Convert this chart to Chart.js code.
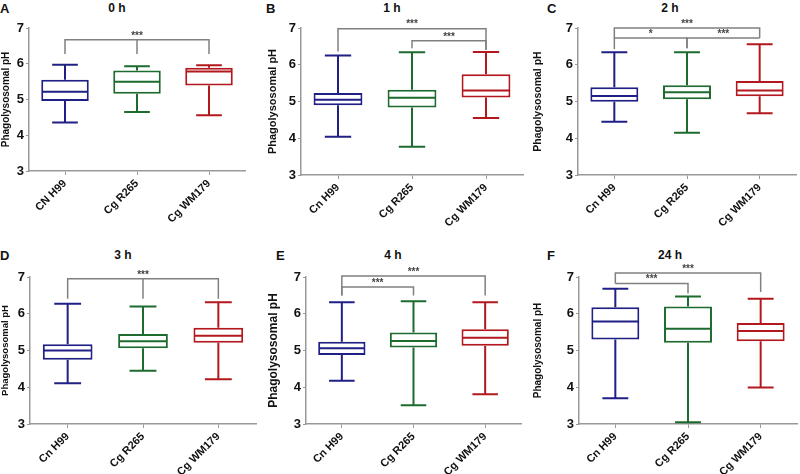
<!DOCTYPE html>
<html>
<head>
<meta charset="utf-8">
<script src="https://cdn.jsdelivr.net/npm/chart.js@4.4.0/dist/chart.umd.min.js"></script>
<style>
  body { margin: 0; background: #fff; width: 800px; height: 474px; position: relative; overflow: hidden;
         font-family: "Liberation Sans", Arial, sans-serif; }
  canvas { position: absolute; }
  .lbl { position: absolute; font-weight: bold; color: #111; white-space: nowrap; line-height: 1; }
</style>
</head>
<body>
<script>
// groups and panels
const groups = ['Cn H99', 'Cg R265', 'Cg WM179'];
const groupsA = ['CN H99', 'Cg R265', 'Cg WM179'];
const times = ['0 h', '1 h', '2 h', '3 h', '4 h', '24 h'];
const letters = ['A', 'B', 'C', 'D', 'E', 'F'];
const yTicks = [3, 4, 5, 6, 7];

// box plot values per panel (Cn H99, Cg R265, Cg WM179)
const mins    = [[4.36, 4.65, 4.56], [4.04, 3.77, 4.55], [4.45, 4.15, 4.68], [4.11, 4.45, 4.22], [4.18, 3.51, 3.81], [3.70, 3.05, 3.99]];
const q1s     = [[4.96, 5.16, 5.39], [4.90, 4.84, 5.11], [4.99, 5.06, 5.14], [4.75, 5.06, 5.21], [4.88, 5.08, 5.13], [5.30, 5.21, 5.25]];
const medians = [[5.22, 5.50, 5.78], [5.05, 5.10, 5.30], [5.15, 5.25, 5.30], [5.00, 5.25, 5.40], [5.06, 5.26, 5.35], [5.79, 5.59, 5.53]];
const q3s     = [[5.55, 5.81, 5.89], [5.23, 5.32, 5.74], [5.39, 5.44, 5.56], [5.17, 5.45, 5.62], [5.24, 5.49, 5.58], [6.18, 6.20, 5.75]];
const maxs    = [[5.97, 5.93, 5.96], [6.25, 6.34, 6.35], [6.34, 6.34, 6.56], [6.27, 6.20, 6.31], [6.31, 6.34, 6.31], [6.68, 6.47, 6.41]];

// significance bars (group indexes, heights in pH units)
const sigBars = [
    [{ from: 0, to: 2, y: 6.67, drops: [6.27, 6.27], mid: 1, midDrop: 6.27, label: '***' }],
    [{ from: 0, to: 2, y: 6.98, drops: [6.36, 6.41], label: '***' },
     { from: 1, to: 2, y: 6.65, drops: [6.45, 6.41], label: '***' }],
    [{ from: 0, to: 2, y: 7.0, drops: [6.73, 6.73], label: '***' },
     { from: 0, to: 1, y: 6.73, drops: [6.42, 6.45], label: '*' },
     { from: 1, to: 2, y: 6.73, drops: [6.45, 6.73], label: '***' }],
    [{ from: 0, to: 2, y: 6.95, drops: [6.41, 6.41], mid: 1, midDrop: 6.41, label: '***' }],
    [{ from: 0, to: 2, y: 7.03, drops: [6.5, 6.5], label: '***' },
     { from: 0, to: 1, y: 6.73, drops: [6.5, 6.5], label: '***' }],
    [{ from: 0, to: 2, y: 7.11, drops: [6.82, 6.59], label: '***' },
     { from: 0, to: 1, y: 6.82, drops: [6.82, 6.55], label: '***' }]
];

const colors = ['#1f1f85', '#1d6b2f', '#b2181e'];
const fam = '"Liberation Sans", Arial, sans-serif';

// where each panel sits on the page
const panels = [
    { left: 0,   top: 0,   w: 266, h: 237, axisX: 29,  top7: 28,  bottom3: 171, right: 245, titleSize: 10,
      letterX: 0, titleX: 117, titleY: 2 },
    { left: 266, top: 0,   w: 266, h: 237, axisX: 301, top7: 28,  bottom3: 175, right: 523, titleSize: 11,
      letterX: 266, titleX: 392, titleY: 2 },
    { left: 532, top: 0,   w: 268, h: 237, axisX: 578, top7: 28,  bottom3: 175, right: 796, titleSize: 10.5,
      letterX: 547, titleX: 670, titleY: 2 },
    { left: 0,   top: 237, w: 266, h: 237, axisX: 30,  top7: 277, bottom3: 424, right: 256, titleSize: 9.5,
      letterX: 0, titleX: 123, titleY: 249 },
    { left: 266, top: 237, w: 266, h: 237, axisX: 306, top7: 277, bottom3: 424, right: 521, titleSize: 12,
      letterX: 276, titleX: 393, titleY: 249 },
    { left: 532, top: 237, w: 268, h: 237, axisX: 579, top7: 277, bottom3: 424, right: 797, titleSize: 10,
      letterX: 547, titleX: 670, titleY: 249 }
];

const boxPlugin = {
    id: 'boxes',
    afterDatasetsDraw(chart, args, opts) {
        const p = opts.panel;
        const ctx = chart.ctx;
        const xs = chart.scales.x;
        const ys = chart.scales.y;
        const py = v => ys.getPixelForValue(v);
        const meta = chart.getDatasetMeta(0);
        ctx.save();
        ctx.lineWidth = 2;
        groups.forEach((g, i) => {
            const bar = meta.data[i];
            const cx = bar.x;
            const half = bar.width / 2;
            const cap = half * 0.54;
            ctx.strokeStyle = colors[i];
            ctx.beginPath();
            ctx.moveTo(cx - half + 1, py(medians[p][i]));
            ctx.lineTo(cx + half - 1, py(medians[p][i]));
            ctx.moveTo(cx, py(q3s[p][i]));
            ctx.lineTo(cx, py(maxs[p][i]));
            ctx.moveTo(cx - cap, py(maxs[p][i]));
            ctx.lineTo(cx + cap, py(maxs[p][i]));
            ctx.moveTo(cx, py(q1s[p][i]));
            ctx.lineTo(cx, py(mins[p][i]));
            ctx.moveTo(cx - cap, py(mins[p][i]));
            ctx.lineTo(cx + cap, py(mins[p][i]));
            ctx.stroke();
        });

        ctx.strokeStyle = '#808080';
        ctx.lineWidth = 1.5;
        ctx.fillStyle = '#444';
        ctx.font = 'bold 10px ' + fam;
        ctx.textAlign = 'center';
        ctx.textBaseline = 'bottom';
        sigBars[p].forEach(b => {
            const xa = xs.getPixelForValue(b.from);
            const xb = xs.getPixelForValue(b.to);
            const yl = py(b.y);
            ctx.beginPath();
            ctx.moveTo(xa, py(b.drops[0]));
            ctx.lineTo(xa, yl);
            ctx.lineTo(xb, yl);
            ctx.lineTo(xb, py(b.drops[1]));
            if (b.mid !== undefined) {
                const xm = xs.getPixelForValue(b.mid);
                ctx.moveTo(xm, yl);
                ctx.lineTo(xm, py(b.midDrop));
            }
            ctx.stroke();
            ctx.fillText(b.label, (xa + xb) / 2, yl + 1);
        });
        ctx.restore();
    }
};

function makePanel(p) {
    const L = panels[p];

    const letter = document.createElement('div');
    letter.className = 'lbl';
    letter.style.cssText = `left:${L.letterX}px;top:${L.titleY}px;font-size:13px;`;
    letter.textContent = letters[p];
    document.body.appendChild(letter);

    const title = document.createElement('div');
    title.className = 'lbl';
    title.style.cssText = `left:${L.titleX}px;top:${L.titleY}px;font-size:12px;transform:translateX(-50%);`;
    title.textContent = times[p];
    document.body.appendChild(title);

    const canvas = document.createElement('canvas');
    canvas.width = L.w;
    canvas.height = L.h;
    canvas.style.left = L.left + 'px';
    canvas.style.top = L.top + 'px';
    document.body.appendChild(canvas);

    new Chart(canvas, {
        type: 'bar',
        data: {
            labels: p === 0 ? groupsA : groups,
            datasets: [{
                data: q1s[p].map((v, i) => [v, q3s[p][i]]),
                backgroundColor: '#ffffff',
                borderColor: colors,
                borderWidth: 2,
                borderSkipped: false,
                barPercentage: 0.66,
                categoryPercentage: 1
            }]
        },
        options: {
            responsive: false,
            animation: false,
            devicePixelRatio: 1,
            layout: { padding: { left: 0, top: L.top7 - L.top, right: L.left + L.w - L.right, bottom: 0 } },
            plugins: {
                legend: { display: false },
                tooltip: { enabled: false },
                boxes: { panel: p }
            },
            scales: {
                x: {
                    afterFit: s => { s.height = L.top + L.h - L.bottom3; },
                    grid: { display: true, drawOnChartArea: false, offset: false, tickLength: 4, color: '#999' },
                    border: { color: '#999', width: 1.5 },
                    ticks: {
                        minRotation: 45, maxRotation: 45, padding: 2, color: '#111',
                        font: { family: fam, size: 11, weight: 'bold' }
                    }
                },
                y: {
                    min: yTicks[0],
                    max: yTicks[yTicks.length - 1],
                    afterFit: s => { s.width = L.axisX - L.left; },
                    grid: { display: true, drawOnChartArea: false, tickLength: 3, color: '#999' },
                    border: { color: '#999', width: 1.5 },
                    ticks: {
                        stepSize: yTicks[1] - yTicks[0], padding: 2, color: '#111',
                        font: { family: fam, size: 13, weight: 'bold' }
                    },
                    title: {
                        display: true, text: 'Phagolysosomal pH', color: '#111', padding: 0,
                        font: { family: fam, size: L.titleSize, weight: 'bold' }
                    }
                }
            }
        },
        plugins: [boxPlugin]
    });
}

panels.forEach((L, p) => makePanel(p));
</script>
</body>
</html>
